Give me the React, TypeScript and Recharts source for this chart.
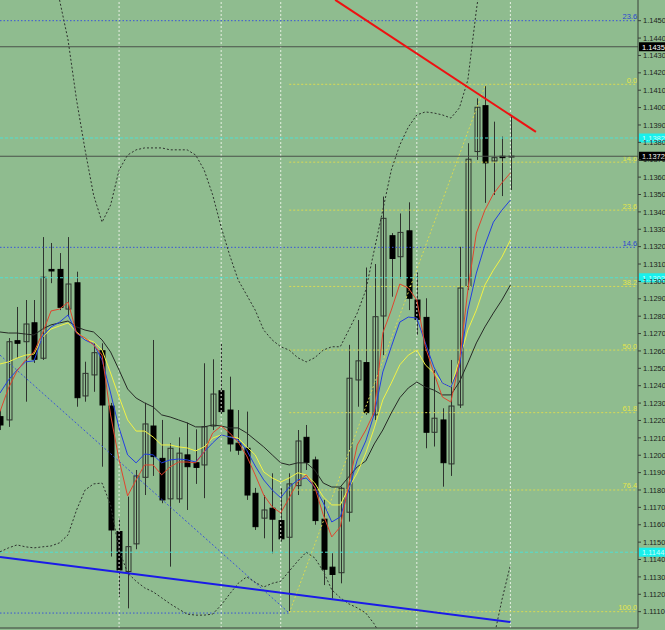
import { ComposedChart, Bar, Line, XAxis, YAxis, ReferenceLine } from 'recharts'

// candle index 0..60, prices
const opens = [
  1.12222, 1.12203, 1.12659, 1.12653, 1.12762, 1.12558, 1.13069, 1.13069, 1.12841, 1.12992,
  1.12341, 1.12462, 1.12601, 1.12283, 1.11561, 1.11331, 1.1149, 1.11873, 1.12168, 1.11982,
  1.11749, 1.11749, 1.12002, 1.11957, 1.11944, 1.12168, 1.12371, 1.1226, 1.12069, 1.1204,
  1.11781, 1.11638, 1.11695, 1.11624, 1.11528, 1.11825, 1.12103, 1.11973, 1.11632, 1.11356,
  1.11324, 1.11672, 1.12433, 1.12533, 1.12232, 1.12801, 1.13263, 1.13142, 1.13291, 1.12893,
  1.12793, 1.12132, 1.12203, 1.1195, 1.12289, 1.12971, 1.13747, 1.14011, 1.13693, 1.1372,
  1.13716,
]
const highs = [
  1.1226, 1.12674, 1.12853, 1.12893, 1.12893, 1.13255, 1.13221, 1.13163, 1.13255, 1.13056,
  1.12538, 1.12644, 1.12644, 1.12301, 1.11639, 1.11762, 1.11915, 1.12302, 1.12663, 1.12203,
  1.12069, 1.12103, 1.12188, 1.12149, 1.12529, 1.12552, 1.12644, 1.12452, 1.1226, 1.12251,
  1.11812, 1.11771, 1.11896, 1.1181, 1.11896, 1.12145, 1.12174, 1.11992, 1.11743, 1.11436,
  1.11819, 1.12635, 1.12778, 1.1308, 1.131, 1.13488, 1.13278, 1.13391, 1.13455, 1.13051,
  1.12903, 1.1249, 1.1227, 1.12548, 1.13199, 1.13795, 1.14053, 1.14124, 1.13919, 1.13833,
  1.13948,
]
const lows = [
  1.12145, 1.12163, 1.12559, 1.12308, 1.12531, 1.12548, 1.1299, 1.12835, 1.12797, 1.12279,
  1.12308, 1.12365, 1.11934, 1.11417, 1.11185, 1.11119, 1.11459, 1.11771, 1.11881, 1.11724,
  1.11359, 1.11726, 1.11685, 1.11835, 1.11753, 1.12145, 1.12237, 1.12021, 1.12002, 1.11743,
  1.1157, 1.11522, 1.11436, 1.11503, 1.11092, 1.11771, 1.11915, 1.116, 1.11253, 1.11176,
  1.11263, 1.11618, 1.12279, 1.12232, 1.12203, 1.12576, 1.12912, 1.13017, 1.12835, 1.12692,
  1.1204, 1.1205, 1.11819, 1.11881, 1.12272, 1.1295, 1.13699, 1.13452, 1.13497, 1.13491,
  1.13526,
]
const closes = [
  1.12174, 1.12653, 1.12644, 1.12755, 1.12552, 1.13024, 1.1306, 1.12851, 1.12985, 1.12331,
  1.12471, 1.1259, 1.12289, 1.1157, 1.1134, 1.11474, 1.11881, 1.1218, 1.11992, 1.11743,
  1.1204, 1.12012, 1.11934, 1.1193, 1.12164, 1.12352, 1.12251, 1.12065, 1.12029, 1.11771,
  1.11589, 1.11685, 1.11632, 1.11519, 1.11835, 1.12082, 1.11959, 1.11624, 1.11344, 1.11314,
  1.1181, 1.12443, 1.12543, 1.12245, 1.12797, 1.13363, 1.13132, 1.13282, 1.12903, 1.12782,
  1.12132, 1.12213, 1.11957, 1.12283, 1.12962, 1.13703, 1.14002, 1.13682, 1.13712, 1.13712,
  1.13721,
]

// moving averages
const maRed = [
  1.12251, 1.12387, 1.12485, 1.12548, 1.12594, 1.12703, 1.1283, 1.12841, 1.12881, 1.12703,
  1.12674, 1.12635, 1.12576, 1.12232, 1.11973, 1.11766, 1.11858, 1.11944, 1.11944, 1.11887,
  1.11933, 1.11961, 1.11961, 1.11956, 1.12019, 1.12128, 1.12168, 1.12128, 1.12076, 1.11996,
  1.11887, 1.11771, 1.11703, 1.11668, 1.11755, 1.11846, 1.11887, 1.11817, 1.11657, 1.1153,
  1.11588, 1.11835, 1.12059, 1.12145, 1.12249, 1.12703, 1.12835, 1.12985, 1.12962, 1.12893,
  1.12624, 1.12473, 1.12335, 1.12306, 1.12537, 1.1295, 1.13278, 1.1341, 1.13503, 1.13567,
  1.13624,
]
const maBlue = [
  1.12358, 1.12433, 1.1249, 1.12537, 1.12543, 1.12686, 1.12738, 1.12766, 1.12807, 1.12703,
  1.12663, 1.1264, 1.12548, 1.12358, 1.12157, 1.12002, 1.11956, 1.12007, 1.12002, 1.11956,
  1.11973, 1.11978, 1.11973, 1.11961, 1.12019, 1.12071, 1.12117, 1.12105, 1.12088, 1.12029,
  1.11938, 1.11858, 1.118, 1.11755, 1.11817, 1.11858, 1.11869, 1.11817, 1.11726, 1.11616,
  1.11645, 1.118, 1.11973, 1.12082, 1.12237, 1.12479, 1.12624, 1.12766, 1.12795, 1.12789,
  1.12646, 1.12508, 1.12415, 1.12392, 1.12508, 1.12835, 1.13048, 1.13209, 1.13341, 1.1341,
  1.13468,
]
const maYellow = [
  1.12525, 1.12537, 1.12559, 1.12576, 1.12582, 1.1268, 1.12726, 1.12744, 1.12761, 1.12709,
  1.12669, 1.12652, 1.12605, 1.12473, 1.12335, 1.12203, 1.12139, 1.12139, 1.12105, 1.12059,
  1.12059, 1.12048, 1.12042, 1.12025, 1.12048, 1.12099, 1.12117, 1.12105, 1.12099, 1.12048,
  1.12002, 1.11904, 1.11869, 1.11846, 1.11869, 1.11899, 1.11887, 1.1184, 1.1176, 1.11714,
  1.11714, 1.11812, 1.11899, 1.12013, 1.12157, 1.12318, 1.12415, 1.1252, 1.12576, 1.12605,
  1.1252, 1.12473, 1.12415, 1.12392, 1.12548, 1.1272, 1.12835, 1.12979, 1.13065, 1.1314,
  1.13238,
]
const maBlack = [
  1.12709, 1.12703, 1.12703, 1.12697, 1.12692, 1.12726, 1.1275, 1.12761, 1.12772, 1.12738,
  1.1272, 1.12709, 1.12663, 1.12594, 1.1249, 1.12381, 1.12329, 1.12301, 1.12278, 1.12232,
  1.1222, 1.12203, 1.12186, 1.12163, 1.12163, 1.12174, 1.12168, 1.12157, 1.12157, 1.12128,
  1.12088, 1.12048, 1.12002, 1.11956, 1.11944, 1.11956, 1.11956, 1.11915, 1.1184, 1.11817,
  1.11817, 1.11876, 1.11933, 1.11967, 1.12065, 1.12145, 1.12243, 1.12331, 1.12387, 1.12421,
  1.12392, 1.12375, 1.12347, 1.12347, 1.12421, 1.12531, 1.12646, 1.12738, 1.12818, 1.12893,
  1.12979,
]

// bollinger envelope
const bandUpper = [
  1.15079, 1.15022, 1.14964, 1.14907, 1.14849, 1.14792, 1.14705, 1.14619, 1.14389, 1.14044,
  1.13757, 1.13497, 1.13341, 1.13439, 1.13641, 1.13727, 1.13757, 1.13768, 1.13768, 1.13768,
  1.13757, 1.13757, 1.13757, 1.13727, 1.13641, 1.13498, 1.13312, 1.13151, 1.13008, 1.12922,
  1.12835, 1.1272, 1.12663, 1.12624, 1.12605, 1.12561, 1.12537, 1.12561, 1.12605, 1.12624,
  1.12624, 1.1272, 1.12818, 1.1295, 1.13181, 1.1341, 1.13641, 1.13785, 1.13888, 1.13958,
  1.13975, 1.13969, 1.13958, 1.1394, 1.13998, 1.14159, 1.14561, 1.14907, 1.15194, 1.15424,
  1.15597,
]
const bandLower = [
  1.11444, 1.11467, 1.11484, 1.11473, 1.11467, 1.11473, 1.11478, 1.11496, 1.11542, 1.11685,
  1.118, 1.11835, 1.1184, 1.11714, 1.11455, 1.11323, 1.11275, 1.11237, 1.11214, 1.1118,
  1.11145, 1.11115, 1.11086, 1.1108, 1.1108, 1.11086, 1.11138, 1.11202, 1.11263, 1.113,
  1.11269, 1.11242, 1.11263, 1.11275, 1.11333, 1.11391, 1.11442, 1.11409, 1.11333, 1.11226,
  1.1118, 1.11145, 1.11122, 1.11092, 1.11029, 1.10937, 1.10822, 1.10706, 1.1062, 1.10563,
  1.10546, 1.10563, 1.10574, 1.1058, 1.10603, 1.10649, 1.10706, 1.10793, 1.10937, 1.11167,
  1.11369,
]

const priceTicks = [
  1.111, 1.112, 1.113, 1.114, 1.115, 1.116, 1.117, 1.118, 1.119, 1.12, 1.121, 1.122,
  1.123, 1.124, 1.125, 1.126, 1.127, 1.128, 1.129, 1.13, 1.131, 1.132, 1.133, 1.134,
  1.135, 1.136, 1.137, 1.138, 1.139, 1.14, 1.141, 1.142, 1.143, 1.144, 1.145,
]
const separators = [14, 26, 33, 49, 60]

const fibLabels = ['0.0', '14.6', '23.6', '38.2', '50.0', '61.8', '76.4', '100.0']
const fibPrices = [1.14134, 1.13686, 1.1341, 1.12971, 1.12605, 1.12245, 1.118, 1.111]
const blueFibLabels = ['23.6', '14.6']
const blueFibPrices = [1.145, 1.13196]
const cyanPrices = [1.13825, 1.13021, 1.11442]
const markedPrices = [1.1435, 1.1372]

const BG = '#8fbc8f'
const FONT = 'Liberation Sans, Arial, sans-serif'

const data = opens.map((o, i) => ({
  i,
  o,
  h: highs[i],
  l: lows[i],
  c: closes[i],
  range: [lows[i], highs[i]],
  red: maRed[i],
  blue: maBlue[i],
  yellow: maYellow[i],
  black: maBlack[i],
  upper: bandUpper[i],
  lower: bandLower[i],
}))

// eslint-disable-next-line @typescript-eslint/no-explicit-any
const Candle = (props: any) => {
  const { x, y, width, height, payload } = props
  if (x == null || y == null || !payload) return null
  const top = Math.min(y, y + height)
  const full = Math.abs(height)
  const { o, h, l, c } = payload
  const span = h - l || 1e-9
  const py = (p: number) => top + ((h - p) / span) * full
  const cx = Math.round(x + width / 2) + 0.5
  const bTop = py(Math.max(o, c))
  const bBot = py(Math.min(o, c))
  const up = c >= o
  return (
    <g>
      <line x1={cx} x2={cx} y1={top} y2={top + full} stroke="#2e332e" strokeWidth={1} />
      <rect
        x={cx - 2.5}
        y={bTop}
        width={5}
        height={Math.max(bBot - bTop, 1)}
        fill={up ? BG : '#000'}
        fillOpacity={up ? 0 : 1}
        stroke={up ? '#2e332e' : '#000'}
        strokeWidth={1}
      />
    </g>
  )
}

// eslint-disable-next-line @typescript-eslint/no-explicit-any
const LevelTag = ({ viewBox, text, color }: any) => {
  if (!viewBox) return null
  return (
    <text
      x={viewBox.x + viewBox.width}
      y={viewBox.y - 1.5}
      textAnchor="end"
      fontSize={7.5}
      fontFamily={FONT}
      fill={color}
    >
      {text}
    </text>
  )
}

// eslint-disable-next-line @typescript-eslint/no-explicit-any
const PriceTag = ({ viewBox, text, bg, fg }: any) => {
  if (!viewBox) return null
  const x = viewBox.x + viewBox.width
  return (
    <g>
      <rect x={x + 1} y={viewBox.y - 4.5} width={26} height={9} fill={bg} />
      <text x={x + 4} y={viewBox.y + 3} fontSize={7.5} fontFamily={FONT} fill={fg}>
        {text}
      </text>
    </g>
  )
}

const lineProps = { dot: false, activeDot: false, isAnimationActive: false, strokeWidth: 1 }

export default function App() {
  const last = 74.9
  return (
    <div style={{ width: 665, height: 630, background: BG, fontFamily: FONT }}>
      <style>{'body{margin:0}'}</style>
      <ComposedChart width={665} height={630} data={data} margin={{ top: 0, right: 0, left: 0, bottom: 0 }}>
        <XAxis
          type="number"
          dataKey="i"
          domain={[0, 75]}
          ticks={[0, 5, 10, 15, 20, 25, 30, 35, 40, 45, 50, 55, 60, 65, 70, 75]}
          allowDataOverflow
          tick={false}
          tickLine={false}
          height={2}
          axisLine={{ stroke: '#3a403a' }}
        />
        <YAxis
          orientation="right"
          domain={[1.11006, 1.14619]}
          allowDataOverflow
          ticks={priceTicks}
          interval={0}
          width={27}
          tickSize={3}
          tickFormatter={(v) => Number(v).toFixed(4)}
          tick={{ fontSize: 7.5, fill: '#1c1f1c', fontFamily: FONT }}
          axisLine={{ stroke: '#3a403a' }}
          tickLine={{ stroke: '#3a403a' }}
        />

        {separators.map((s) => (
          <ReferenceLine key={`sep${s}`} x={s} stroke="#e6efe2" strokeDasharray="2 2" />
        ))}

        {blueFibPrices.map((p, k) => (
          <ReferenceLine
            key={`bf${k}`}
            segment={[{ x: 0, y: p }, { x: last, y: p }]}
            stroke="#3a55d8"
            strokeDasharray="1.5 2"
            ifOverflow="hidden"
            label={<LevelTag text={blueFibLabels[k]} color="#2b47d0" />}
          />
        ))}
        {fibPrices.map((p, k) => (
          <ReferenceLine
            key={`yf${k}`}
            segment={[{ x: 34, y: p }, { x: last, y: p }]}
            stroke="#dada52"
            strokeDasharray="2 2"
            ifOverflow="hidden"
            label={<LevelTag text={fibLabels[k]} color="#e4e44a" />}
          />
        ))}
        {cyanPrices.map((p, k) => (
          <ReferenceLine
            key={`cy${k}`}
            y={p}
            stroke="#4fe0d2"
            strokeDasharray="3 2"
            label={<PriceTag text={p.toFixed(4)} bg="#19f0ec" fg="#c8fffc" />}
          />
        ))}
        {markedPrices.map((p, k) => (
          <ReferenceLine
            key={`mk${k}`}
            y={p}
            stroke="#4a524a"
            strokeWidth={1.2}
            label={<PriceTag text={p.toFixed(4)} bg="#000" fg="#fff" />}
          />
        ))}

        <ReferenceLine
          segment={[{ x: 0, y: 1.11092 }, { x: 34, y: 1.11092 }]}
          stroke="#3a55d8"
          strokeDasharray="1.5 2"
          ifOverflow="hidden"
        />
        <ReferenceLine
          segment={[{ x: 0, y: 1.12576 }, { x: 34, y: 1.11092 }]}
          stroke="#3a55d8"
          strokeDasharray="2 2"
          ifOverflow="hidden"
        />
        <ReferenceLine
          segment={[{ x: 34, y: 1.11092 }, { x: 57, y: 1.14124 }]}
          stroke="#dada52"
          strokeDasharray="2 2"
          ifOverflow="hidden"
        />

        <Line dataKey="upper" stroke="#2e332e" strokeDasharray="2 2" {...lineProps} />
        <Line dataKey="lower" stroke="#2e332e" strokeDasharray="2 2" {...lineProps} />

        <Bar dataKey="range" barSize={5} shape={<Candle />} activeBar={false} isAnimationActive={false} />

        <Line dataKey="black" stroke="#262a26" {...lineProps} />
        <Line dataKey="yellow" stroke="#f2f244" {...lineProps} />
        <Line dataKey="blue" stroke="#2340e0" {...lineProps} />
        <Line dataKey="red" stroke="#e0452e" {...lineProps} />

        <ReferenceLine
          segment={[{ x: 39.4, y: 1.1462 }, { x: 63, y: 1.1386 }]}
          stroke="#ee1111"
          strokeWidth={2}
          ifOverflow="hidden"
        />
        <ReferenceLine
          segment={[{ x: 0, y: 1.11415 }, { x: 60, y: 1.1104 }]}
          stroke="#1a1ae8"
          strokeWidth={2}
          ifOverflow="hidden"
        />
      </ComposedChart>
    </div>
  )
}
